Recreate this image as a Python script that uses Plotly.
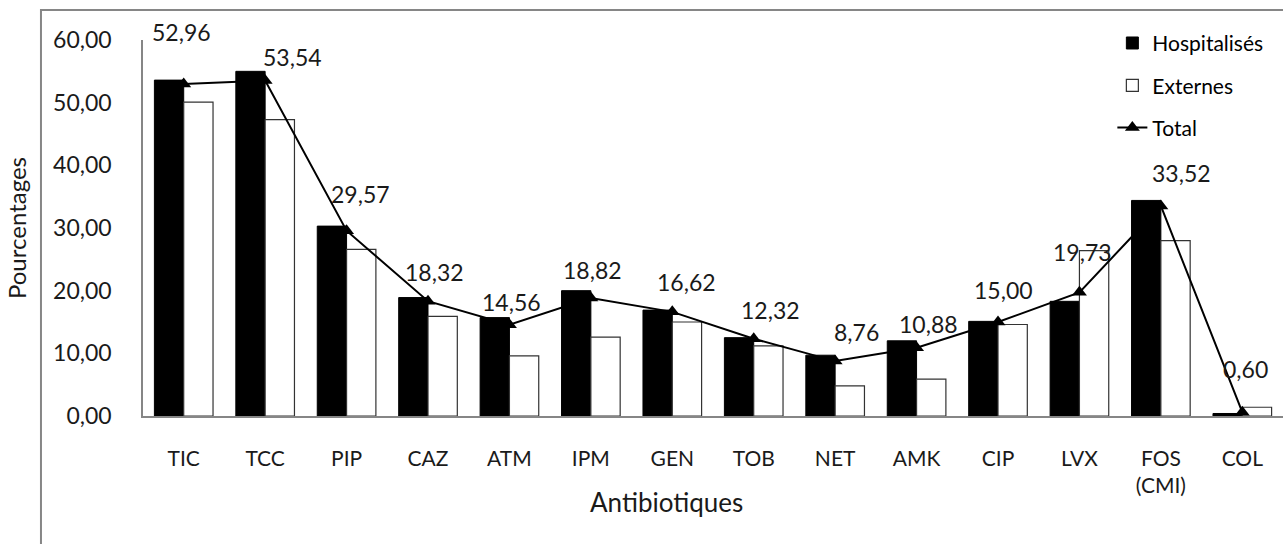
import plotly.graph_objects as go

categories = ["TIC", "TCC", "PIP", "CAZ", "ATM", "IPM", "GEN", "TOB", "NET", "AMK", "CIP", "LVX", "FOS<br>(CMI)", "COL"]
hospitalises = [53.6, 55.0, 30.3, 18.9, 15.7, 20.0, 16.9, 12.5, 9.7, 12.0, 15.1, 18.3, 34.4, 0.4]
externes = [50.1, 47.3, 26.6, 15.9, 9.6, 12.6, 15.0, 11.2, 4.8, 5.9, 14.6, 26.4, 28.0, 1.4]
total = [52.96, 53.54, 29.57, 18.32, 14.56, 18.82, 16.62, 12.32, 8.76, 10.88, 15.00, 19.73, 33.52, 0.60]

# label offsets (pixels) for the Total data labels
label_dx = [-2, 27, 14, 6, 2, 2, 14, 17, 21, 12, 5, 3, 21, 3]
label_dy = [52, 23, 37, 29, 23, 28, 30, 29, 29, 24, 32, 40, 33, 43]

FONT = "Lato"
TXT = "#1a1a1a"
fig = go.Figure()
fig.add_trace(go.Bar(x=categories, y=hospitalises, name="Hospitalisés",
                     marker=dict(color="black", line=dict(color="black", width=1)),
                     legendgroup="a"))
fig.add_trace(go.Bar(x=categories, y=externes, name="Externes",
                     marker=dict(color="white", line=dict(color="#333333", width=1.2)),
                     legendgroup="b"))
fig.add_trace(go.Scatter(x=categories, y=total, name="Total", mode="lines+markers",
                         line=dict(color="black", width=2),
                         marker=dict(symbol="triangle-up", size=13, color="black"),
                         legendgroup="c"))

for c, v, dx, dy in zip(categories, total, label_dx, label_dy):
    fig.add_annotation(x=c, y=v, text=f"{v:.2f}".replace(".", ","), showarrow=False,
                       xshift=dx, yshift=dy, font=dict(family=FONT, size=23, color=TXT))

# x-axis title, centred on the chart area
fig.add_annotation(xref="paper", yref="paper", x=0.4588, y=-0.229, text="Antibiotiques",
                   xanchor="center", yanchor="middle",
                   showarrow=False, font=dict(family=FONT, size=26, color=TXT))

fig.add_shape(type="rect", xref="paper", yref="paper", x0=-0.0895, x1=1.05, y0=-0.4, y1=1.0798,
              line=dict(color="#868686", width=2), fillcolor="rgba(0,0,0,0)", layer="below")

fig.update_layout(
    width=1283, height=544, autosize=False,
    margin=dict(l=143, r=0, t=40, b=128, autoexpand=False),
    paper_bgcolor="white", plot_bgcolor="white",
    barmode="group", bargap=0.28, bargroupgap=0,
    separators=", ",
    font=dict(family=FONT, size=23, color=TXT),
    legend=dict(xref="container", yref="container", x=0.867, y=0.958, xanchor="left", yanchor="top",
                font=dict(family=FONT, size=21, color="black"), tracegroupgap=12,
                bgcolor="rgba(0,0,0,0)"),
    showlegend=True,
)
fig.update_xaxes(range=[-0.5, 13.5], showline=True, linecolor="#868686", linewidth=1.5,
                 ticks="", showgrid=False, ticklabelstandoff=23,
                 tickfont=dict(size=21, color=TXT))
fig.update_yaxes(range=[0, 60], dtick=10, tickformat=".2f", showline=True, linecolor="#868686",
                 linewidth=1.5, ticks="", showgrid=False, zeroline=False, ticklabelstandoff=25,
                 title=dict(text="Pourcentages", standoff=20, font=dict(size=24, color=TXT)),
                 tickfont=dict(size=23, color=TXT))

fig.write_html("out.html")
